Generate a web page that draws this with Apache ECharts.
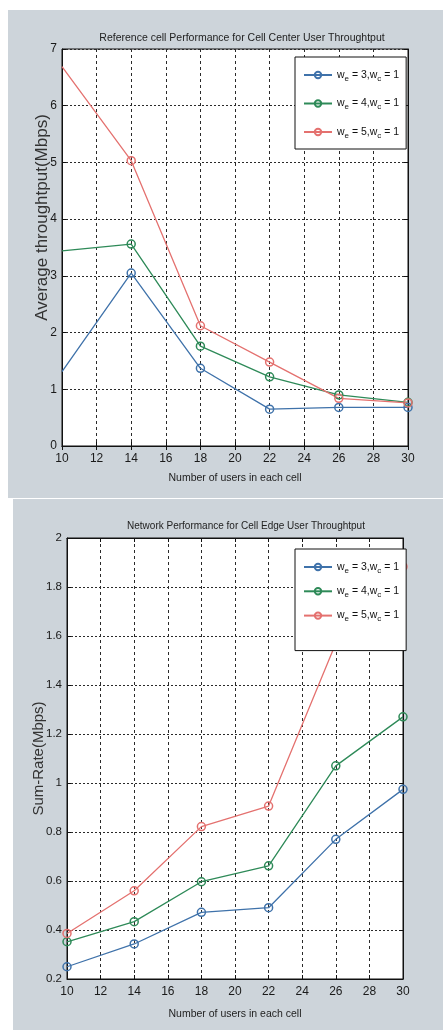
<!DOCTYPE html>
<html>
<head>
<meta charset="utf-8">
<script src="https://cdn.jsdelivr.net/npm/echarts@6/dist/echarts.min.js"></script>
<style>
  html, body { margin: 0; padding: 0; background: #fff; }
  #chart { width: 443px; height: 1030px; }
</style>
</head>
<body>
<div id="chart"></div>
<script>
// x values (number of users in each cell)
const users = [10, 14, 18, 22, 26, 30]
const seriesNames = ['w_e = 3,w_c = 1', 'w_e = 4,w_c = 1', 'w_e = 5,w_c = 1']

// cell center throughput (Mbps)
const centerWe3 = [1.31, 3.05, 1.37, 0.65, 0.68, 0.68]
const centerWe4 = [3.44, 3.56, 1.76, 1.22, 0.9, 0.77]
const centerWe5 = [6.69, 5.03, 2.12, 1.48, 0.84, 0.76]

// cell edge sum-rate (Mbps)
const edgeWe3 = [0.25, 0.343, 0.472, 0.491, 0.77, 0.974]
const edgeWe4 = [0.352, 0.434, 0.597, 0.662, 1.07, 1.27]
const edgeWe5 = [0.386, 0.56, 0.822, 0.906, 1.57, 1.883]

const xTicks = [10, 12, 14, 16, 18, 20, 22, 24, 26, 28, 30]

const colors = ['#3f72aa', '#2e8a58', '#e4716f']
const sans = '"Liberation Sans", Arial, sans-serif'
const bgGray = '#cdd4da'

const chart = echarts.init(document.getElementById('chart'))

function pairs(vals) {
  return vals.map((v, i) => [users[i], v])
}

function makeSeries(vals, idx, grid, hideFirst) {
  return {
    name: seriesNames[idx],
    type: 'line',
    xAxisIndex: grid * 2,
    yAxisIndex: grid * 2,
    data: pairs(vals),
    symbol: 'circle',
    symbolSize: (v, p) => (hideFirst && p && p.dataIndex === 0 ? 0 : 8),
    showSymbol: true,
    lineStyle: { color: colors[idx], width: 1.3 },
    itemStyle: { color: 'rgba(255,255,255,0)', borderColor: colors[idx], borderWidth: 1.5 },
    emphasis: { disabled: true },
    z: 2,
  }
}

function xAxes(grid, nameGap) {
  return [
    {
      type: 'value',
      gridIndex: grid,
      min: 10, max: 30, interval: 2,
      name: 'Number of users in each cell',
      nameLocation: 'middle',
      nameGap: nameGap,
      nameMoveOverlap: false,
      nameTextStyle: { fontFamily: sans, fontSize: 10.5, color: '#222' },
      axisLine: { lineStyle: { color: '#111' } },
      axisTick: { inside: true, length: 4, lineStyle: { color: '#111' } },
      axisLabel: { fontFamily: sans, fontSize: 12, color: '#1a1a1a', margin: 7,
        formatter: v => (xTicks.includes(v) ? String(v) : '') },
      splitLine: { show: true, lineStyle: { color: '#2a2a2a', type: [3, 3], width: 1 } },
    },
    {
      type: 'value',
      gridIndex: grid,
      position: 'top',
      min: 10, max: 30, interval: 2,
      axisLine: { lineStyle: { color: '#111' } },
      axisTick: { inside: true, length: 4, lineStyle: { color: '#111' } },
      axisLabel: { show: false },
      splitLine: { show: false },
    },
  ]
}

function yAxes(grid, min, max, interval, name, nameSize, nameGap, namePad, labelSize, fmt) {
  return [
    {
      type: 'value',
      gridIndex: grid,
      min: min, max: max, interval: interval,
      name: name,
      nameLocation: 'middle',
      nameGap: nameGap,
      nameMoveOverlap: false,
      nameTextStyle: { fontFamily: sans, fontSize: nameSize, color: '#333', padding: namePad },
      axisLine: { show: true, lineStyle: { color: '#111' } },
      axisTick: { show: true, inside: true, length: 4, lineStyle: { color: '#111' } },
      axisLabel: { fontFamily: sans, fontSize: labelSize, color: '#1a1a1a', margin: 5, formatter: fmt },
      splitLine: { show: true, lineStyle: { color: '#2a2a2a', type: [2, 2], width: 1 } },
    },
    {
      type: 'value',
      gridIndex: grid,
      position: 'right',
      min: min, max: max, interval: interval,
      axisLine: { show: true, lineStyle: { color: '#111' } },
      axisTick: { show: true, inside: true, length: 4, lineStyle: { color: '#111' } },
      axisLabel: { show: false },
      splitLine: { show: false },
    },
  ]
}

function legend(left, top, gap, padding) {
  return {
    show: true,
    orient: 'vertical',
    left: left,
    top: top,
    data: seriesNames,
    itemWidth: 28,
    itemHeight: 8,
    itemGap: gap,
    padding: padding,
    backgroundColor: '#fff',
    borderColor: '#111',
    borderWidth: 1,
    selectedMode: false,
    z: 10,
    formatter: n => n.replace(/_(\w)/g, '{s|$1}'),
    textStyle: {
      fontFamily: sans, fontSize: 10.5, color: '#111', lineHeight: 16,
      rich: { s: { fontFamily: sans, fontSize: 8, lineHeight: 8, padding: [7, 0, 0, 0], color: '#111' } },
    },
  }
}

const option = {
  animation: false,
  backgroundColor: '#fff',
  graphic: [
    { type: 'rect', shape: { x: 8, y: 10, width: 435, height: 488 }, style: { fill: bgGray }, z: -10, silent: true },
    { type: 'rect', shape: { x: 13, y: 499, width: 430, height: 531 }, style: { fill: bgGray }, z: -10, silent: true },
  ],
  title: [
    {
      text: 'Reference cell Performance for Cell Center User Throughtput',
      left: 237, top: 28, textAlign: 'center',
      textStyle: { fontFamily: sans, fontSize: 10.5, fontWeight: 'normal', color: '#222' },
    },
    {
      text: 'Network Performance for Cell Edge User Throughtput',
      left: 241, top: 516, textAlign: 'center',
      textStyle: { fontFamily: sans, fontSize: 10, fontWeight: 'normal', color: '#222' },
    },
  ],
  grid: [
    { left: 62, top: 49, width: 346, height: 397, show: true, backgroundColor: '#fff', borderColor: '#111', borderWidth: 1 },
    { left: 67, top: 538, width: 336, height: 441, show: true, backgroundColor: '#fff', borderColor: '#111', borderWidth: 1 },
  ],
  xAxis: [...xAxes(0, 27), ...xAxes(1, 30)],
  yAxis: [
    ...yAxes(0, 0, 7, 1, 'Average throughtput(Mbps)', 17, 11, [0, 0, 0, 60], 12, v => String(v)),
    ...yAxes(1, 0.2, 2, 0.2, 'Sum-Rate(Mbps)', 15, 21, 0, 11.5, v => String(Math.round(v * 10) / 10)),
  ],
  legend: [
    legend(295, 57, 12.5, [10, 7, 9, 8]),
    legend(295, 549, 8.3, [10, 7, 27, 8]),
  ],
  series: [
    makeSeries(centerWe3, 0, 0, true),
    makeSeries(centerWe4, 1, 0, true),
    makeSeries(centerWe5, 2, 0, true),
    makeSeries(edgeWe3, 0, 1, false),
    makeSeries(edgeWe4, 1, 1, false),
    makeSeries(edgeWe5, 2, 1, false),
  ],
}

chart.setOption(option)
</script>
</body>
</html>
